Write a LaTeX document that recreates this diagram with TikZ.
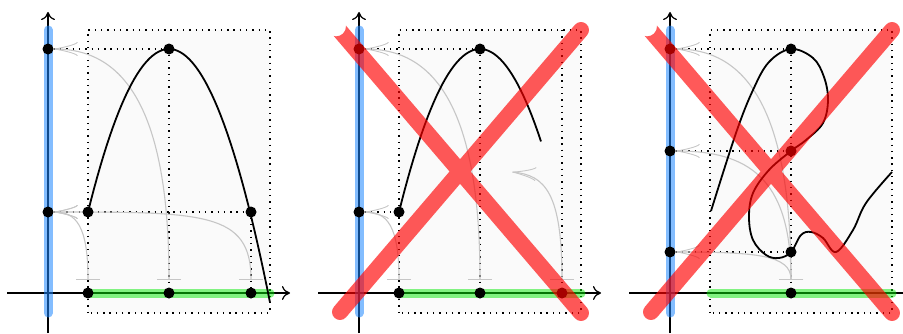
\documentclass[tikz,border=0pt]{standalone}
\usetikzlibrary{arrows.meta}

\definecolor{bandblue}{RGB}{30,135,255}
\definecolor{bandgreen}{RGB}{10,235,10}
\definecolor{crossred}{RGB}{255,0,0}

\pgfdeclarelayer{back}
\pgfdeclarelayer{front}
\pgfsetlayers{back,main,front}

\begin{document}
\begin{tikzpicture}[
  x=1pt,y=1pt,
  dot/.style={circle,fill,inner sep=0pt,minimum size=11pt},
  axis/.style={line width=1.2pt,-{Computer Modern Rightarrow[length=8pt,width=14pt]}},
  guide/.style={line width=1.4pt,dash pattern=on 1.4pt off 4.9pt},
  box/.style={guide,fill=black!2},
  graph/.style={line width=1.8pt},
  yband/.style={draw=bandblue,draw opacity=.55,line width=9pt,line cap=round},
  xband/.style={draw=bandgreen,draw opacity=.5,line width=9pt,line cap=round},
  lift/.style={gray!45,line width=1.1pt,{Bar[width=24pt]}-{Classical TikZ Rightarrow[length=24pt,width=14pt]}},
  cross/.style={crossred,draw opacity=.65,line width=16pt,line cap=round}
]
\useasboundingbox (0,0) rectangle (903,333);
\clip (0,0) rectangle (903,333);

% left: a function
\begin{scope}[shift={(48,40)}]
  \node[dot] (a-x1) at (40,0) {};
  \node[dot] (a-x2) at (121,0) {};
  \node[dot] (a-x3) at (203,0) {};
  \node[dot] (a-f1) at (40,81) {};
  \node[dot] (a-f2) at (121,244) {};
  \node[dot] (a-f3) at (203,81) {};
  \node[dot] (a-y1) at (0,81) {};
  \node[dot] (a-y2) at (0,244) {};
  \coordinate (a-b1) at (40,13);
  \coordinate (a-b2) at (121,13);
  \coordinate (a-b3) at (203,13);
  \draw[graph] plot[domain=40:222,samples=60] (\x,{244-0.024844*(\x-121)^2});
  \begin{pgfonlayer}{back}
    \draw[box] (40,-20) rectangle (222,263);
    \draw[guide] (a-y2) -- (a-f2) -- (a-x2);
    \draw[guide] (a-y1) -- (a-f3) -- (a-x3);
    \draw[lift] (a-b1) .. controls (40,67) and (28,81) .. (a-y1);
    \draw[lift] (a-b2) .. controls (121,186) and (75,244) .. (a-y2);
    \draw[lift] (a-b3) .. controls (203,81) and (155,81) .. (a-y1);
    \draw[axis] (-41,0) -- (242,0);
    \draw[axis] (0,-40) -- (0,281);
    \draw[yband] (0,-20) -- (0,263);
    \draw[xband] (41,0) -- (222,0);
  \end{pgfonlayer}
\end{scope}

% middle: not defined everywhere
\begin{scope}[shift={(359,40)}]
  \node[dot] (b-x1) at (40,0) {};
  \node[dot] (b-x2) at (121,0) {};
  \node[dot] (b-x3) at (203,0) {};
  \node[dot] (b-f1) at (40,81) {};
  \node[dot] (b-f2) at (121,244) {};
  \node[dot] (b-y1) at (0,81) {};
  \node[dot] (b-y2) at (0,244) {};
  \coordinate (b-b1) at (40,13);
  \coordinate (b-b2) at (121,13);
  \coordinate (b-b3) at (203,13);
  \coordinate (b-top) at (203,263);
  \coordinate (b-end) at (153,121);
  \draw[graph] plot[domain=40:182,samples=50] (\x,{244-0.024844*(\x-121)^2});
  \begin{pgfonlayer}{back}
    \draw[box] (40,-20) rectangle (222,263);
    \draw[guide] (b-y2) -- (b-f2) -- (b-x2);
    \draw[guide] (b-y1) -- (b-f1);
    \draw[guide] (b-top) -- (b-x3);
    \draw[lift] (b-b1) .. controls (40,67) and (28,81) .. (b-y1);
    \draw[lift] (b-b2) .. controls (121,186) and (75,244) .. (b-y2);
    \draw[lift] (b-b3) .. controls (203,100) and (186,118) .. (b-end);
    \draw[axis] (-41,0) -- (242,0);
    \draw[axis] (0,-40) -- (0,281);
    \draw[yband] (0,-20) -- (0,263);
    \draw[xband] (41,0) -- (222,0);
  \end{pgfonlayer}
  \begin{pgfonlayer}{front}
    \coordinate (b-c1) at (-19,262);
    \coordinate (b-c2) at (222,-20);
    \coordinate (b-c3) at (-19,-19);
    \coordinate (b-c4) at (222,263);
    \coordinate (b-cut) at (-23,266.6);
    \begin{scope}
      \clip (-60,-60) -- (-60,300) -- (260,300) -- (260,-60) -- cycle (b-cut) circle (10);
      \draw[cross] (b-c1) -- (b-c2) (b-c3) -- (b-c4);
    \end{scope}
  \end{pgfonlayer}
\end{scope}

% right: several values
\begin{scope}[shift={(670,40)}]
  \node[dot] (c-x1) at (121,0) {};
  \node[dot] (c-f1) at (121,41) {};
  \node[dot] (c-f2) at (121,142) {};
  \node[dot] (c-f3) at (121,244) {};
  \node[dot] (c-y1) at (0,41) {};
  \node[dot] (c-y2) at (0,142) {};
  \node[dot] (c-y3) at (0,244) {};
  \coordinate (c-b1) at (121,13);
  \draw[graph] plot[smooth,tension=0.6] coordinates {
    (41,82) (66,160) (83,203) (99,231) (121,244) (143,235) (154,216)
    (158,193) (153,170) (136,153) (121,142) (99,123) (83,100) (79,76)
    (83,53) (96,38) (109,35) (121,41) (131,58) (141,61) (153,55)
    (166,41) (183,63) (196,90) (222,121)};
  \begin{pgfonlayer}{back}
    \draw[box] (40,-20) rectangle (222,263);
    \draw[guide] (c-y3) -- (c-f3) -- (c-x1);
    \draw[guide] (c-y2) -- (c-f2);
    \draw[guide] (c-y1) -- (c-f1);
    \draw[lift] (c-b1) .. controls (121,38) and (86,41) .. (c-y1);
    \draw[lift] (c-b1) .. controls (121,116) and (77,142) .. (c-y2);
    \draw[lift] (c-b1) .. controls (121,186) and (75,244) .. (c-y3);
    \draw[axis] (-41,0) -- (242,0);
    \draw[axis] (0,-40) -- (0,281);
    \draw[yband] (0,-20) -- (0,263);
    \draw[xband] (41,0) -- (222,0);
  \end{pgfonlayer}
  \begin{pgfonlayer}{front}
    \coordinate (c-c1) at (-19,262);
    \coordinate (c-c2) at (222,-20);
    \coordinate (c-c3) at (-19,-19);
    \coordinate (c-c4) at (222,263);
    \coordinate (c-cut) at (-23,266.6);
    \begin{scope}
      \clip (-60,-60) -- (-60,300) -- (260,300) -- (260,-60) -- cycle (c-cut) circle (10);
      \draw[cross] (c-c1) -- (c-c2) (c-c3) -- (c-c4);
    \end{scope}
  \end{pgfonlayer}
\end{scope}
\end{tikzpicture}
\end{document}
